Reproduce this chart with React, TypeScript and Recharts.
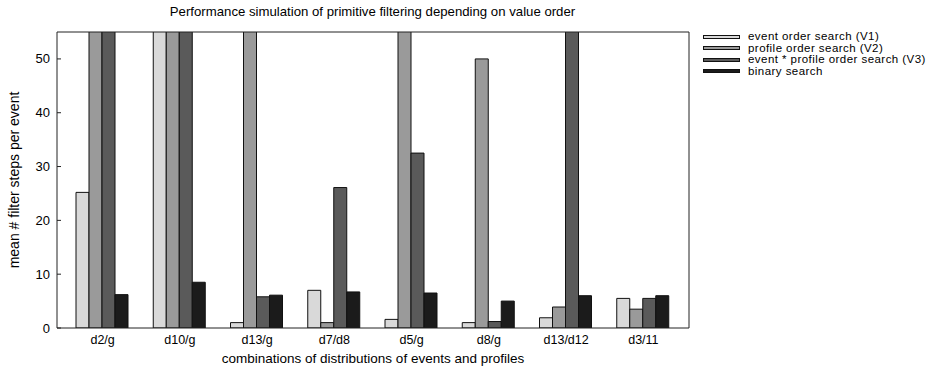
import { Bar, BarChart, Label, XAxis, YAxis } from "recharts";

const categories = ["d2/g", "d10/g", "d13/g", "d7/d8", "d5/g", "d8/g", "d13/d12", "d3/11"];
// values above 55 run off the top of the plot in the reference (clipped)
const v1 = [25.2, 60, 1.0, 7.0, 1.6, 1.0, 1.9, 5.5];
const v2 = [60, 60, 60, 1.0, 60, 50.0, 3.9, 3.5];
const v3 = [60, 60, 5.8, 26.1, 32.5, 1.2, 60, 5.5];
const binary = [6.2, 8.5, 6.1, 6.7, 6.5, 5.0, 6.0, 6.0];
const yTicks = [0, 10, 20, 30, 40, 50];

const series = [
  { key: "v1", label: "event order search (V1)", color: "#d9d9d9" },
  { key: "v2", label: "profile order search (V2)", color: "#9a9a9a" },
  { key: "v3", label: "event * profile order search (V3)", color: "#5a5a5a" },
  { key: "bin", label: "binary search", color: "#1b1b1b" },
];

const data = categories.map((c, i) => ({
  name: c,
  v1: v1[i],
  v2: v2[i],
  v3: v3[i],
  bin: binary[i],
}));

const FONT = "'Liberation Sans', Arial, Helvetica, sans-serif";
const AXIS = "#222";

function LeftTick(props: any) {
  const { x, y, payload } = props;
  return (
    <g>
      <line x1={x + 6} x2={x + 10} y1={y} y2={y} stroke={AXIS} />
      <text x={x - 1} y={y} dy={4.5} textAnchor="end" fontSize={13} fill="#000" fontFamily={FONT}>
        {payload.value}
      </text>
    </g>
  );
}

function LegendBox() {
  return (
    <div
      style={{
        position: "absolute",
        left: 703,
        top: 31,
        fontFamily: FONT,
        fontSize: 11.5,
        letterSpacing: 0.45,
        lineHeight: "11.5px",
        color: "#000",
      }}
    >
      {series.map((s) => (
        <div key={s.key} style={{ display: "flex", alignItems: "center", height: 11.5, whiteSpace: "nowrap" }}>
          <span
            style={{
              display: "inline-block",
              width: 35,
              height: 2,
              background: s.color,
              border: "1px solid #111",
              marginRight: 8,
            }}
          />
          {s.label}
        </div>
      ))}
    </div>
  );
}

export default function App() {
  return (
    <div style={{ position: "absolute", left: 0, top: 0, width: 941, height: 367, background: "#fff" }}>
      <div
        style={{
          position: "absolute",
          top: 4,
          left: 57,
          width: 631,
          textAlign: "center",
          fontFamily: FONT,
          fontSize: 13.2,
          lineHeight: "16px",
        }}
      >
        Performance simulation of primitive filtering depending on value order
      </div>
      <BarChart
        width={941}
        height={367}
        data={data}
        margin={{ top: 31, right: 252, bottom: 0, left: 0 }}
        barGap={0}
        barCategoryGap={12}
      >
        <XAxis
          dataKey="name"
          padding={{ left: 7, right: 7 }}
          tickLine={false}
          axisLine={{ stroke: AXIS }}
          tick={{ fontSize: 12.5, fill: "#000", fontFamily: FONT }}
          tickMargin={1}
          height={39}
        >
          <Label
            value="combinations of distributions of events and profiles"
            position="insideBottom"
            offset={4}
            style={{ fontSize: 13.5, fill: "#000", fontFamily: FONT }}
          />
        </XAxis>
        <XAxis
          xAxisId="top"
          dataKey="name"
          orientation="top"
          tick={false}
          tickLine={false}
          axisLine={{ stroke: AXIS }}
          height={1}
        />
        <YAxis
          domain={[0, 55]}
          allowDataOverflow
          ticks={yTicks}
          width={57}
          tickSize={0}
          tickMargin={6}
          tickLine={false}
          axisLine={{ stroke: AXIS }}
          tick={<LeftTick />}
        >
          <Label
            value="mean # filter steps per event"
            angle={-90}
            position="insideLeft"
            offset={14}
            style={{ textAnchor: "middle", fontSize: 14, fill: "#000", fontFamily: FONT }}
          />
        </YAxis>
        <YAxis
          yAxisId="right"
          orientation="right"
          domain={[0, 55]}
          ticks={yTicks}
          width={1}
          mirror
          tickSize={4}
          tickLine={{ stroke: AXIS }}
          axisLine={{ stroke: AXIS }}
          tick={() => <g />}
        />
        {series.map((s) => (
          <Bar
            key={s.key}
            dataKey={s.key}
            name={s.label}
            fill={s.color}
            stroke="#111"
            strokeWidth={1}
            isAnimationActive={false}
          />
        ))}
      </BarChart>
      <LegendBox />
    </div>
  );
}
